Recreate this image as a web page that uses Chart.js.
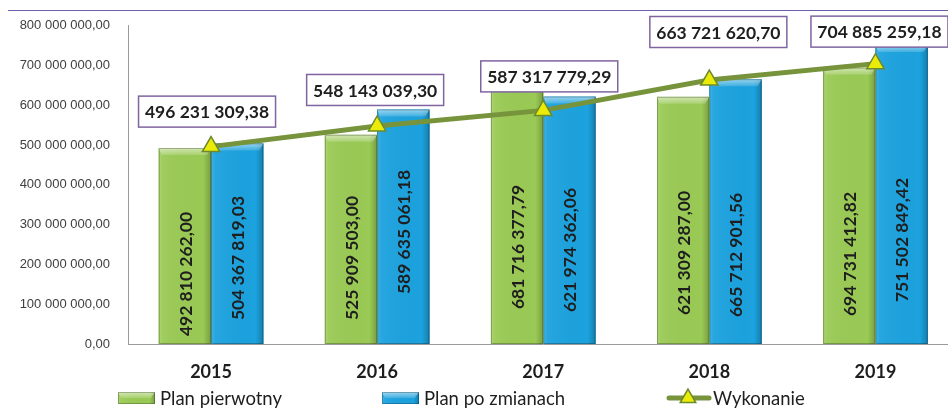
<!DOCTYPE html>
<html>
<head>
<meta charset="utf-8">
<script src="https://cdn.jsdelivr.net/npm/chart.js@4.4.1/dist/chart.umd.min.js"></script>
<style>
  html, body { margin: 0; padding: 0; background: #fff; overflow: hidden; }
  #chart { position: absolute; left: 0; top: 0; }
</style>
</head>
<body>
<canvas id="chart" width="970" height="411"></canvas>
<script>
const years = ["2015", "2016", "2017", "2018", "2019"];
const planPierwotny = [492810262.00, 525909503.00, 681716377.79, 621309287.00, 694731412.82];
const planPoZmianach = [504367819.03, 589635061.18, 621974362.06, 665712901.56, 751502849.42];
const wykonanie = [496231309.38, 548143039.30, 587317779.29, 663721620.70, 704885259.18];
const yTicks = [0, 100000000, 200000000, 300000000, 400000000, 500000000, 600000000, 700000000, 800000000];
const seriesNames = ["Plan pierwotny", "Plan po zmianach", "Wykonanie"];

// label placement tweaks (pixels)
const barLabelLift = [[70, 86, 97, 91, 90], [86, 112, 94, 89, 104]];
const boxShift = [[-4, -35], [-2, -36], [6, -34], [9, -48], [4, -32]];
const legendX = [118, 382, 667];

const GREEN = "#9aca55";
const BLUE = "#1ca2de";
const LINE = "#77933c";

function formatPl(v) {
  const parts = v.toFixed(2).split(".");
  const intPart = parts[0].replace(/\B(?=(\d{3})+(?!\d))/g, " ");
  return intPart + "," + parts[1];
}

function drawBevelBar(ctx, left, top, w, h, color) {
  ctx.save();
  ctx.fillStyle = color;
  ctx.fillRect(left, top, w, h);
  // left highlight, right shade
  let g = ctx.createLinearGradient(left, 0, left + w, 0);
  g.addColorStop(0, "rgba(255,255,255,0.18)");
  g.addColorStop(0.08, "rgba(255,255,255,0.05)");
  g.addColorStop(0.85, "rgba(0,0,0,0)");
  g.addColorStop(1, "rgba(0,0,0,0.22)");
  ctx.fillStyle = g;
  ctx.fillRect(left, top, w, h);
  // top bevel
  const bv = Math.min(7, h / 2);
  ctx.beginPath();
  ctx.moveTo(left, top);
  ctx.lineTo(left + w, top);
  ctx.lineTo(left + w - 4, top + bv);
  ctx.lineTo(left + 3, top + bv);
  ctx.closePath();
  const tg = ctx.createLinearGradient(0, top, 0, top + bv);
  tg.addColorStop(0, "rgba(255,255,255,0.55)");
  tg.addColorStop(1, "rgba(255,255,255,0.15)");
  ctx.fillStyle = tg;
  ctx.fill();
  ctx.strokeStyle = "rgba(0,0,0,0.25)";
  ctx.lineWidth = 1;
  ctx.strokeRect(left + 0.5, top + 0.5, w - 1, h - 1);
  ctx.restore();
}

const decorPlugin = {
  id: "decor",
  beforeDraw(chart) {
    const ctx = chart.ctx;
    ctx.save();
    ctx.strokeStyle = "#6a5fae";
    ctx.lineWidth = 1;
    ctx.beginPath();
    ctx.moveTo(8, 10.5);
    ctx.lineTo(chart.width, 10.5);
    ctx.stroke();
    ctx.restore();
  },
  afterDatasetDraw(chart, args) {
    const ds = chart.data.datasets[args.index];
    if (ds.type !== "bar") return;
    const ctx = chart.ctx;
    args.meta.data.forEach((bar) => {
      const p = bar.getProps(["x", "y", "base", "width"], true);
      drawBevelBar(ctx, p.x - p.width / 2, p.y, p.width, p.base - p.y, ds.backgroundColor);
    });
  },
  afterDatasetsDraw(chart) {
    const ctx = chart.ctx;
    // vertical labels in bars
    [0, 1].forEach((di) => {
      const meta = chart.getDatasetMeta(di);
      meta.data.forEach((bar, i) => {
        const p = bar.getProps(["x", "base"], true);
        ctx.save();
        ctx.translate(p.x, p.base - barLabelLift[di][i]);
        ctx.rotate(-Math.PI / 2);
        ctx.font = "bold 17.5px Lato";
        ctx.fillStyle = "#1e1e1e";
        ctx.textAlign = "center";
        ctx.textBaseline = "middle";
        ctx.fillText(formatPl(chart.data.datasets[di].data[i]), 0, 1);
        ctx.restore();
      });
    });
    // boxed labels for the line
    const lineMeta = chart.getDatasetMeta(2);
    lineMeta.data.forEach((pt, i) => {
      const cx = pt.x + boxShift[i][0];
      const cy = pt.y + boxShift[i][1];
      const w = 137, h = 31;
      ctx.save();
      ctx.fillStyle = "#fff";
      ctx.fillRect(cx - w / 2, cy - h / 2, w, h);
      ctx.strokeStyle = "#8064a2";
      ctx.lineWidth = 1.5;
      ctx.strokeRect(cx - w / 2, cy - h / 2, w, h);
      ctx.font = "bold 17.5px Lato";
      ctx.fillStyle = "#1e1e1e";
      ctx.textAlign = "center";
      ctx.textBaseline = "middle";
      ctx.fillText(formatPl(chart.data.datasets[2].data[i]), cx, cy + 1);
      ctx.restore();
    });
  },
  afterDraw(chart) {
    const ctx = chart.ctx;
    const y = 398;
    ctx.save();
    ctx.font = "18.5px Lato";
    ctx.fillStyle = "#1e1e1e";
    ctx.textBaseline = "middle";
    chart.data.datasets.forEach((ds, i) => {
      const x = legendX[i];
      let textX;
      if (ds.type === "bar") {
        drawBevelBar(ctx, x, y - 6, 37, 12, ds.backgroundColor);
        textX = x + 42;
      } else {
        ctx.strokeStyle = LINE;
        ctx.lineWidth = 5;
        ctx.lineCap = "round";
        ctx.beginPath();
        ctx.moveTo(x + 2, y);
        ctx.lineTo(x + 42, y);
        ctx.stroke();
        ctx.fillStyle = ds.pointBackgroundColor;
        ctx.strokeStyle = ds.pointBorderColor;
        ctx.lineWidth = 1.5;
        Chart.helpers.drawPoint(ctx, { pointStyle: "triangle", radius: 9, rotation: 0, borderWidth: 1.5 }, x + 21, y);
        ctx.fillStyle = "#1e1e1e";
        textX = x + 46;
      }
      ctx.fillText(ds.label, textX, y + 1);
    });
    ctx.restore();
  },
};

new Chart(document.getElementById("chart"), {
  data: {
    labels: years,
    datasets: [
      {
        type: "bar",
        label: seriesNames[0],
        data: planPierwotny,
        backgroundColor: GREEN,
        categoryPercentage: 0.63,
        barPercentage: 1.0,
        order: 1,
      },
      {
        type: "bar",
        label: seriesNames[1],
        data: planPoZmianach,
        backgroundColor: BLUE,
        categoryPercentage: 0.63,
        barPercentage: 1.0,
        order: 1,
      },
      {
        type: "line",
        label: seriesNames[2],
        data: wykonanie,
        borderColor: LINE,
        borderWidth: 5,
        pointStyle: "triangle",
        pointRadius: 10,
        pointBackgroundColor: "#ebeb0a",
        pointBorderColor: "#6b8a2a",
        pointBorderWidth: 1.5,
        tension: 0,
        order: 0,
      },
    ],
  },
  options: {
    responsive: false,
    animation: false,
    layout: { padding: { top: 19, right: 4, left: 0, bottom: 0 } },
    plugins: {
      legend: { display: false },
      tooltip: { enabled: false },
    },
    scales: {
      x: {
        grid: { display: false, drawTicks: false },
        border: { display: true, color: "#9a9a9a", width: 1 },
        ticks: {
          padding: 17,
          color: "#1e1e1e",
          font: { family: "Lato", size: 18, weight: "bold" },
        },
        afterFit: (scale) => { scale.height = 67; },
      },
      y: {
        min: yTicks[0],
        max: yTicks[yTicks.length - 1],
        afterBuildTicks: (scale) => {
          scale.ticks = yTicks.map((v) => ({ value: v }));
        },
        grid: { display: false, drawTicks: false },
        border: { display: true, color: "#9a9a9a", width: 1 },
        ticks: {
          padding: 18,
          color: "#404040",
          font: { family: "Liberation Sans", size: 13 },
          callback: (v) => formatPl(v),
        },
        afterFit: (scale) => { scale.width = 128; },
      },
    },
  },
  plugins: [decorPlugin],
});
</script>
</body>
</html>
